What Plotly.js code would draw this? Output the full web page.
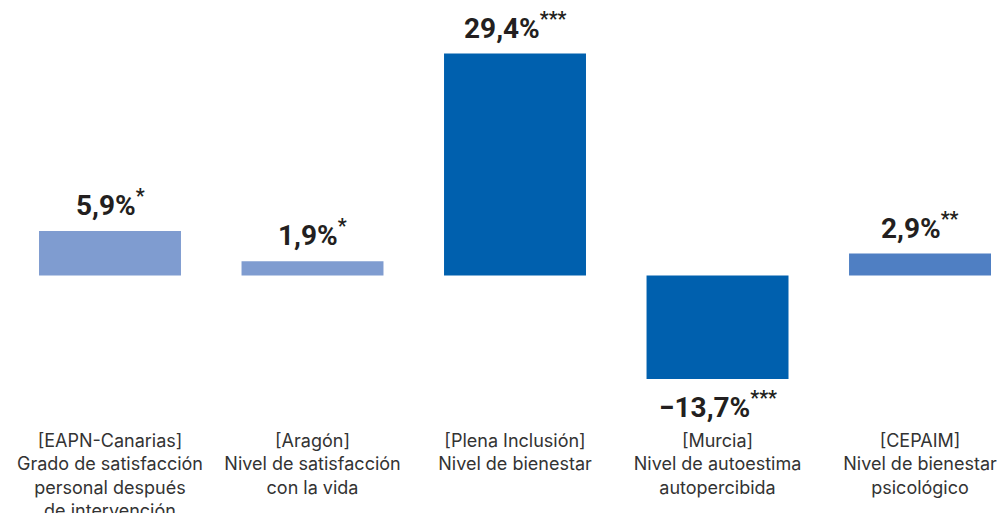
<!DOCTYPE html>
<html>
<head>
<meta charset="utf-8">
<script src="https://cdn.plot.ly/plotly-3.0.1.min.js"></script>
<style>html,body{margin:0;padding:0;background:#fff;}#chart{width:999px;height:513px;}</style>
</head>
<body>
<div id="chart"></div>
<script>
var categories = [
  "[EAPN-Canarias]<br>Grado de satisfacción<br>personal después<br>de intervención",
  "[Aragón]<br>Nivel de satisfacción<br>con la vida",
  "[Plena Inclusión]<br>Nivel de bienestar",
  "[Murcia]<br>Nivel de autoestima<br>autopercibida",
  "[CEPAIM]<br>Nivel de bienestar<br>psicológico"
];
var values = [5.9, 1.9, 29.4, -13.7, 2.9];
var stars = ["*", "*", "***", "***", "**"];
var colors = ["#7f9cd0", "#7f9cd0", "#0060ae", "#0060ae", "#4f7fc3"];

var xIdx = values.map(function(v, i){ return i; });

var trace = {
  type: "bar",
  x: xIdx,
  y: values,
  marker: {color: colors},
  hoverinfo: "none"
};

var annotations = values.map(function(v, i){
  var txt = v.toFixed(1).replace(".", ",").replace("-", "\u2212") + "%<sup>" + stars[i] + "</sup>";
  return {
    x: i, y: v, xref: "x", yref: "y",
    text: txt, showarrow: false,
    xanchor: "center",
    yanchor: v >= 0 ? "bottom" : "top",
    yshift: v >= 0 ? 7 : -6,
    font: {family: "Roboto, Inter, sans-serif", size: 28, color: "#231f20", weight: 700}
  };
});

var layout = {
  width: 999, height: 513,
  margin: {l: 0, r: 0, t: 0, b: 98},
  paper_bgcolor: "#ffffff",
  plot_bgcolor: "#ffffff",
  showlegend: false,
  bargap: 0.299,
  xaxis: {
    range: [-0.5432, 4.390],
    tickmode: "array",
    tickvals: xIdx,
    ticktext: categories,
    ticklabelstandoff: 13,
    showgrid: false, zeroline: false, showline: false, ticks: "",
    tickfont: {family: "Inter, 'Open Sans', sans-serif", size: 18, color: "#333333"},
    fixedrange: true
  },
  yaxis: {
    range: [-18.48, 36.49],
    visible: false,
    showgrid: false, zeroline: false,
    fixedrange: true
  },
  annotations: annotations
};

Plotly.newPlot("chart", [trace], layout, {displayModeBar: false, staticPlot: true});
</script>
</body>
</html>
